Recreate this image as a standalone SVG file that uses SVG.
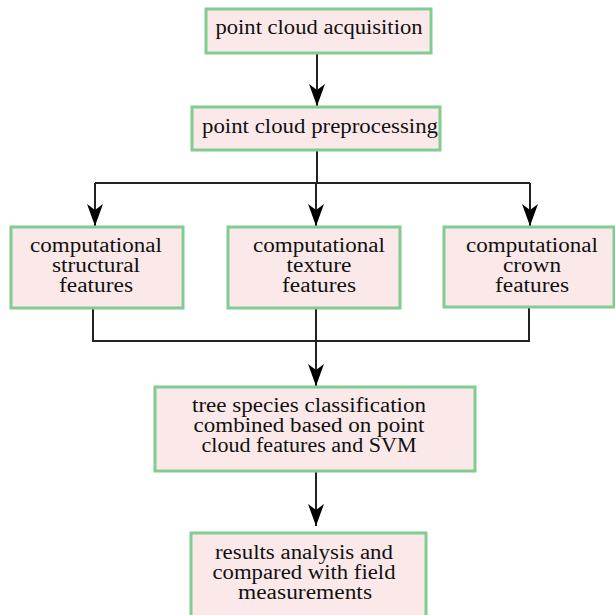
<svg xmlns="http://www.w3.org/2000/svg" width="615" height="615" viewBox="0 0 615 615">
<defs>
<marker id="ah" markerWidth="22" markerHeight="16" viewBox="0 0 22 16" refX="22" refY="8" orient="auto" markerUnits="userSpaceOnUse">
<path d="M0,0 L6,8 L0,16 L22,8 Z" fill="#000"/>
</marker>
<style>
.box{fill:#fbe9e9;stroke:#80cc92;stroke-width:3}
.t{font-family:"Liberation Serif", "DejaVu Serif", serif;font-size:20px;fill:#111;text-anchor:middle}
.c{fill:none;stroke:#222;stroke-width:2}
</style>
</defs>
<rect width="615" height="615" fill="#fff"/>
<g id="connectors">
<line class="c" x1="317" y1="53" x2="317" y2="106" marker-end="url(#ah)"/>
<path class="c" d="M317,150 V183 M95,183 H530"/>
<line class="c" x1="95" y1="183" x2="95" y2="226" marker-end="url(#ah)"/>
<line class="c" x1="316" y1="183" x2="316" y2="226" marker-end="url(#ah)"/>
<line class="c" x1="530" y1="183" x2="530" y2="226" marker-end="url(#ah)"/>
<path class="c" d="M93,308 V341 H529 V307"/>
<line class="c" x1="316" y1="308" x2="316" y2="386" marker-end="url(#ah)"/>
<line class="c" x1="316" y1="472" x2="316" y2="526" marker-end="url(#ah)"/>
</g>
<g id="n1"><rect class="box" x="206" y="9" width="225" height="44"/><text class="t" x="319" y="34" textLength="207" lengthAdjust="spacingAndGlyphs">point cloud acquisition</text></g>
<g id="n2"><rect class="box" x="192" y="107" width="248" height="43"/><text class="t" x="320" y="133" textLength="236" lengthAdjust="spacingAndGlyphs">point cloud preprocessing</text></g>
<g id="n3"><rect class="box" x="11" y="227" width="172" height="81"/><text class="t" x="96" y="252" textLength="132" lengthAdjust="spacingAndGlyphs">computational</text><text class="t" x="96" y="272" textLength="88" lengthAdjust="spacingAndGlyphs">structural</text><text class="t" x="96" y="292" textLength="74" lengthAdjust="spacingAndGlyphs">features</text></g>
<g id="n4"><rect class="box" x="228" y="227" width="172" height="81"/><text class="t" x="319" y="252" textLength="132" lengthAdjust="spacingAndGlyphs">computational</text><text class="t" x="319" y="272" textLength="65" lengthAdjust="spacingAndGlyphs">texture</text><text class="t" x="319" y="292" textLength="74" lengthAdjust="spacingAndGlyphs">features</text></g>
<g id="n5"><rect class="box" x="444" y="227" width="170" height="80"/><text class="t" x="532" y="252" textLength="132" lengthAdjust="spacingAndGlyphs">computational</text><text class="t" x="532" y="272" textLength="58" lengthAdjust="spacingAndGlyphs">crown</text><text class="t" x="532" y="292" textLength="74" lengthAdjust="spacingAndGlyphs">features</text></g>
<g id="n6"><rect class="box" x="155" y="387" width="320" height="84"/><text class="t" x="309" y="412" textLength="234" lengthAdjust="spacingAndGlyphs">tree species classification</text><text class="t" x="309" y="432" textLength="231" lengthAdjust="spacingAndGlyphs">combined based on point</text><text class="t" x="309" y="452" textLength="215" lengthAdjust="spacingAndGlyphs">cloud features and SVM</text></g>
<g id="n7"><rect class="box" x="191" y="533" width="235" height="90"/><text class="t" x="304" y="559" textLength="178" lengthAdjust="spacingAndGlyphs">results analysis and</text><text class="t" x="304" y="579" textLength="183" lengthAdjust="spacingAndGlyphs">compared with field</text><text class="t" x="305" y="599" textLength="134" lengthAdjust="spacingAndGlyphs">measurements</text></g>
</svg>
